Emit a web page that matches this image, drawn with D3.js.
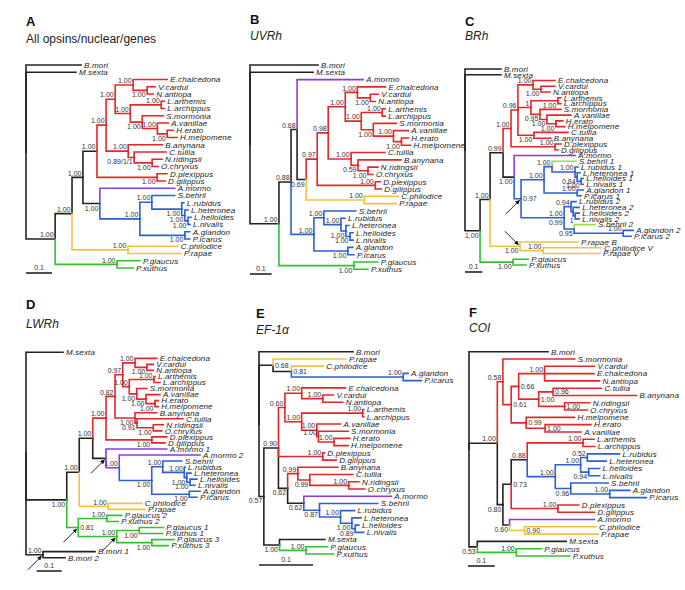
<!DOCTYPE html>
<html><head><meta charset="utf-8">
<script src="https://cdn.jsdelivr.net/npm/d3@7"></script>
<style>
body{margin:0;background:#fff}
svg{display:block}
text{font-family:"Liberation Sans",Arial,sans-serif}
</style></head><body>
<svg id="c" width="685" height="590"></svg>
<script>
// colour codes used by the trees
const palette = {k:"#222222", r:"#e5262b", p:"#8e3bd8", b:"#2f5fd6", y:"#f2c142", g:"#33c033", l:"#9edc48"};

// rows: [node, parent, branch length, support label ("_" below, ">" right, "a|b" above|below), colour code]
const treeA = [
["A0","",0],
["B.mori","A0",0.212],["M.sexta","A0",0.192],
["A1","A0",0.112,"1.00"],["A2","A1",0.065,"1.00"],["A3","A2",0.042,"1.00"],
["A4","A3",0.054,"1.00"],["A5","A4",0.035,"1.00","r"],["A6","A5",0.035,"1.00"],
["A7","A6",0.069,"1.00"],["E.chalcedona","A7",0.131],
["A8","A7",0.054,"_1.00"],["V.cardui","A8",0.031],["N.antiopa","A8",0.023],
["A9","A6",0.058,"1.00"],["A10","A9",0.119,"1.00"],["L.arthemis","A10",0.012],["L.archippus","A10",0.012],
["A11","A9",0.046,"_1.00"],["S.mormonia","A11",0.081],
["A12","A11",0.058,"1.00"],["A.vanillae","A12",0.042],
["A13","A12",0.038,"_1.00"],["H.erato","A13",0.023],["H.melpomene","A13",0.038],
["A14","A5",0.085,"1.00"],["B.anynana","A14",0.131],
["A15","A14",0.023,"_0.89/1/1"],["C.tullia","A15",0.123],
["A16","A15",0.069,"_1.00"],["N.ridingsii","A16",0.038],["O.chryxus","A16",0.023],
["A17","A4",0.231,"_1.00","r"],["D.plexippus","A17",0.038],["D.gilippus","A17",0.031],
["A18","A3",0.065,"_1.00"],["A.mormo","A18",0.288,"","p"],
["A19","A18",0.154,"1.00","b"],["A20","A19",0.046,"1.00"],["S.behrii","A20",0.088],
["A21","A20",0.115,"_1.00"],["L.rubidus","A21",0.008],
["A22","A21",0.012,"_1.00"],["L.heteronea","A22",0.012],
["A23","A22",0.012,"_1.00"],["L.helloides","A23",0.012],["L.nivalis","A23",0.008],
["A24","A19",0.173,"_1.00"],["A.glandon","A24",0.019],["P.icarus","A24",0.019],
["A25","A2",0.215,"1.00","y"],["C.philodice","A25",0.192],["P.rapae","A25",0.204],
["A26","A1",0.238,"1.00","g"],["P.glaucus","A26",0.088],["P.xuthus","A26",0.062]
];

const treeB = [
["B0","",0],
["B.mori","B0",0.315],["M.sexta","B0",0.292],
["B1","B0",0.134,"1.00"],["B2","B1",0.056,"0.88"],["B3","B2",0.028,"0.68"],
["A.mormo","B3",0.306,"","p"],
["B4","B3",0.042,"_0.69"],["B5","B4",0.051,"0.97","r"],["B6","B5",0.051,"0.98"],
["B7","B6",0.079,"1.00"],["B8","B7",0.056,"1.00"],["E.chalcedona","B8",0.130],
["B9","B8",0.060,"_1.00"],["V.cardui","B9",0.037],["N.antiopa","B9",0.023],
["B10","B7",0.074,"1.00"],["B11","B10",0.097,"1.00"],["L.arthemis","B11",0.014],["L.archippus","B11",0.014],
["B12","B10",0.056,"_1.00"],["S.mormonia","B12",0.106],
["B13","B12",0.093,"1.00"],["A.vanillae","B13",0.069],
["B14","B13",0.037,"_1.00"],["H.erato","B14",0.032],["H.melpomene","B14",0.042],
["B15","B6",0.106,"1.00"],["C.tullia","B15",0.157],
["B16","B15",0.032,"_0.59"],["B.anynana","B16",0.199],
["B17","B16",0.046,"_1.00"],["N.ridingsii","B17",0.046],["O.chryxus","B17",0.023],
["B18","B5",0.269,"1.00"],["D.plexippus","B18",0.023],["D.gilippus","B18",0.028],
["B19","B4",0.269,"1.00","y"],["C.philodice","B19",0.157],["P.rapae","B19",0.148],
["B20","B2",0.106,"1.00","b"],["B21","B20",0.046,"1.00"],["S.behrii","B21",0.148],
["B22","B21",0.079,"1.00"],["L.rubidus","B22",0.019],
["B23","B22",0.023,"_1.00"],["L.heteronea","B23",0.014],
["B24","B23",0.019,"_1.00"],["L.helloides","B24",0.014],["L.nivalis","B24",0.014],
["B25","B20",0.157,"_1.00"],["A.glandon","B25",0.023],["P.icarus","B25",0.028],
["B26","B1",0.347,"_1.00","g"],["P.glaucus","B26",0.111],["P.xuthus","B26",0.065]
];

const treeC = [
["C0","",0],
["B.mori","C0",0.208],["M.sexta","C0",0.208],
["C1","C0",0.087,"_1.00"],["C2","C1",0.058,"1.00"],["C3","C2",0.075,"0.99"],
["C4","C3",0.046,"1.00","r"],["C5","C4",0.040,"0.96"],
["C6","C5",0.087,"1.00"],["E.chalcedona","C6",0.127],
["C7","C6",0.046,"_1.00"],["V.cardui","C7",0.081],["N.antiopa","C7",0.052],
["C8","C5",0.075,"1"],["C9","C8",0.156,"_1.00"],["L.arthemis","C9",0.017],["L.archippus","C9",0.017],
["C10","C8",0.052,"_0.95"],["S.mormonia","C10",0.121],
["C11","C10",0.040,"_1.00"],["A.vanillae","C11",0.139],
["C12","C11",0.052,"_1.00"],["H.erato","C12",0.040],["H.melpomene","C12",0.052],
["C13","C5",0.092,"_1.00"],["C.tullia","C13",0.197],["B.anynana","C13",0.098],
["C14","C4",0.254,"1.00"],["D.plexippus","C14",0.035],["D.gilippus","C14",0.017],
["C15","C3",0.064,"_1.00"],["A.mormo","C15",0.353,"","p"],
["C16","C15",0.040,">0.97","b"],
["C17","C16",0.133,"1.00"],["C18","C17",0.046,"1.00"],["S.behrii 1","C18",0.139,"","l"],
["C19","C18",0.133,"1.00"],["L.rubidus 1","C19",0.017],
["C20","C19",0.012,"_0.84"],["L.heteronea 1","C20",0.017],
["C21","C20",0.023,"_1.00"],["L.helloides 1","C21",0.012],["L.nivalis 1","C21",0.012],
["C22","C17",0.191,"1.00"],["A.glandon 1","C22",0.035],["P.icarus 1","C22",0.023],
["C23","C16",0.249,"1.00|0.99"],
["C24","C23",0.040,"0.94"],["L.rubidus 2","C24",0.029],
["C25","C24",0.012,""],["L.heteronea 2","C25",0.035],
["C26","C25",0.012,"_1"],["L.helloides 2","C26",0.023],["L.nivalis 2","C26",0.023],
["C27","C23",0.058,"_0.95"],["S.behrii 2","C27",0.121,"","l"],
["C28","C27",0.283,"1.00"],["A.glandon 2","C28",0.058],["P.icarus 2","C28",0.046],
["C29","C2",0.173,"_1.00","y"],["P.rapae B","C29",0.335],
["C30","C29",0.133,"1.00"],["C.philodice V","C30",0.335],["P.rapae V","C30",0.329],
["C31","C1",0.191,"_1.00","g"],["P.glaucus","C31",0.087],["P.xuthus","C31",0.075]
];

const treeD = [
["D0","",0],
["M.sexta","D0",0.148],
["D1","D0",0.163,"_1.00"],["D2","D1",0.050,"1.00"],["D3","D2",0.054,"1.00"],
["D4","D3",0.053,"1.00","r"],["D5","D4",0.036,"0.82"],["D6","D5",0.031,"0.97"],
["D7","D6",0.049,"1.00"],["E.chalcedona","D7",0.087],
["D8","D7",0.047,"_1.00"],["V.cardui","D8",0.026],["N.antiopa","D8",0.026],
["D9","D6",0.026,"1.00"],["D10","D9",0.099,"1.00"],["L.arthemis","D10",0.004],["L.archippus","D10",0.024],
["D11","D9",0.030,"_1.00"],["S.mormonia","D11",0.040],
["D12","D11",0.037,"_1.00"],["A.vanillae","D12",0.056],
["D13","D12",0.036,"_1.00"],["H.erato","D13",0.013],["H.melpomene","D13",0.013],
["D14","D5",0.080,"_1.00"],["B.anynana","D14",0.087],
["D15","D14",0.008,"_0.91"],["C.tullia","D15",0.184],
["D16","D15",0.065,"_1.00"],["N.ridingsii","D16",0.040],["O.chryxus","D16",0.034],
["D17","D4",0.183,"_1.00"],["D.plexippus","D17",0.060],["D.gilippus","D17",0.053],
["D18","D3",0.053,""],["A.mormo 1","D18",0.243,"","p"],
["D19","D18",0.053,"1.00","p"],["A.mormo 2","D19",0.323],
["D20","D19",0.130,"_1.00","b"],["D21","D20",0.044,"1.00"],["S.behrii","D21",0.076],
["D22","D21",0.086,"1.00"],["L.rubidus","D22",0.003],
["D23","D22",0.010,"_1.00"],["L.heteronea","D23",0.017],
["D24","D23",0.013,"_1.00"],["L.helloides","D24",0.028],["L.nivalis","D24",0.020],
["D25","D20",0.150,"_1.00"],["A.glandon","D25",0.043],["P.icarus","D25",0.031],
["D26","D2",0.116,"1.00","y"],["C.philodice","D26",0.134],["P.rapae","D26",0.147],
["D27","D1",0.046,">0.81","g"],
["D28","D27",0.114,"1.00"],["P.glaucus 2","D28",0.060],["P.xuthus 2","D28",0.046],
["D29","D27",0.154,"1.00"],
["D30","D29",0.090,"_1.00"],["P.glaucus 1","D30",0.096],["P.xuthus 1","D30",0.094],
["D31","D29",0.140,"_1.00"],["P.glaucus 3","D31",0.089],["P.xuthus 3","D31",0.066],
["D32","D0",0.068,"1.00"],["B.mori 1","D32",0.208],["B.mori 2","D32",0.088]
];

const treeE = [
["E0","",0],
["B.mori","E0",0.174],
["E1","E0",0.026,">0.68"],["P.rapae","E1",0.135,"","y"],
["E2","E1",0.034,">0.81"],["C.philodice","E2",0.059,"","y"],
["E3","E2",0.207,"1.00","b"],["A.glandon","E3",0.009],["P.icarus","E3",0.034],
["E4","E0",0.009,"_0.57"],["E5","E4",0.027,"0.90"],
["E6","E5",0.012,"0.60","r"],
["E7","E6",0.031,"1.00"],["E.chalcedona","E7",0.081],
["E8","E7",0.039,"1.00"],["V.cardui","E8",0.020],["N.antiopa","E8",0.037],
["E9","E6",0.031,"1.00"],["E10","E9",0.113,"1.00"],["L.arthemis","E10",0.002],["L.archippus","E10",0.002],
["E11","E9",0.028,"1.00"],["A.vanillae","E11",0.044],
["E12","E11",0.003,"1.00"],["S.mormonia","E12",0.055],
["E13","E12",0.029,"1.00"],["H.erato","E13",0.029],["H.melpomene","E13",0.026],
["E14","E5",0.082,"1.00","r"],["D.plexippus","E14",0.003],["D.gilippus","E14",0.025],
["E15","E5",0.017,"_0.62"],
["E16","E15",0.019,"0.99","r"],["B.anynana","E16",0.074],
["E17","E16",0.022,"_0.99"],["C.tullia","E17",0.080],
["E18","E17",0.072,"1.00"],["N.ridingsii","E18",0.019],["O.chryxus","E18",0.030],
["E19","E15",0.030,"_0.62"],["A.mormo","E19",0.162,"","p"],
["E20","E19",0.029,"_0.87","b"],["S.behrii","E20",0.108],
["E21","E20",0.039,"1.00"],["L.rubidus","E21",0.026],
["E22","E21",0.021,"_1.00"],["L.heteronea","E22",0.017],
["E23","E22",0.006,"_0.89"],["L.helloides","E23",0.007],["L.nivalis","E23",0.016],
["E24","E4",0.029,"_1.00"],["M.sexta","E24",0.084],
["E25","E24",0.049,"1.00","g"],["P.glaucus","E25",0.040],["P.xuthus","E25",0.051]
];

const treeF = [
["F0","",0],
["B.mori","F0",0.296],
["F1","F0",0.106,"1.00"],
["F2","F1",0.021,"0.58","r"],["S.mormonia","F2",0.269],
["F3","F2",0.031,">0.61"],["F4","F3",0.028,">0.66"],
["F5","F4",0.097,"1.00"],["V.cardui","F5",0.187],["E.chalcedona","F5",0.185],["N.antiopa","F5",0.206],
["F6","F4",0.075,">1.00"],
["F7","F6",0.054,">0.96"],["C.tullia","F7",0.181],["B.anynana","F7",0.312],
["F8","F6",0.097,">1.00"],["N.ridingsii","F8",0.094],["O.chryxus","F8",0.085],
["F9","F3",0.056,">0.99"],["H.melpomene","F9",0.181],
["F10","F9",0.071,">1.00"],["H.erato","F10",0.172],["A.vanillae","F10",0.135],
["F11","F1",0.021,"_0.80"],["F12","F11",0.031,">0.73"],["F13","F12",0.060,"0.88"],
["F14","F13",0.209,"1.00","r"],["L.arthemis","F14",0.041],["L.archippus","F14",0.044],
["F15","F13",0.105,"1.00","b"],["F16","F15",0.095,"1.00"],
["F17","F16",0.025,"0.52"],["L.rubidus","F17",0.121],["L.heteronea","F17",0.071],
["F18","F16",0.030,"_0.94"],["L.helloides","F18",0.041],["L.nivalis","F18",0.041],
["F19","F15",0.058,"_0.96"],["S.behrii","F19",0.140],
["F20","F19",0.146,"1.00"],["A.glandon","F20",0.075],["P.icarus","F20",0.137],
["F21","F12",0.175,"1.00","r"],["D.plexippus","F21",0.078],["D.gilippus","F21",0.137],
["F22","F11",0.025,"_0.60"],["A.mormo","F22",0.318,"","p"],
["F23","F22",0.056,">0.90","y"],["C.philodice","F23",0.268],["P.rapae","F23",0.275],
["F24","F0",0.031,"_0.53"],["M.sexta","F24",0.333],
["F25","F24",0.146,"1.00","g"],["P.glaucus","F25",0.094],["P.xuthus","F25",0.200]
];

const letters = ["A","B","C","D","E","F"];
const titles = ["All opsins/nuclear/genes","UVRh","BRh","LWRh","EF-1\u03B1","COI"];
const scaleLabel = "0.1";
// arrows: [node, side the arrow comes from]
const arrowsC = [["C16","below"],["C29","above"]];
const arrowsD = [["D18","below"],["D27","below"],["D29","below"],["D32","below"]];

// layout (pixels)
const layout = [
 {tree:treeA, italic:false, x0:26,  unit:26,   y0:65,    y1:268,   sbX:26,  sbY:273, lx:26,  ly:26,  ty:42.5, arrows:[]},
 {tree:treeB, italic:true,  x0:250, unit:21.6, y0:65,    y1:269.3, sbX:250, sbY:274, lx:250, ly:23.5, ty:40, arrows:[]},
 {tree:treeC, italic:true,  x0:465, unit:17.3, y0:69,    y1:265,   sbX:465, sbY:272, lx:465, ly:26,  ty:40,   arrows:arrowsC},
 {tree:treeD, italic:true,  x0:26,  unit:25,   y0:352.3, y1:557.7, sbX:36.7,sbY:571, lx:26,  ly:309, ty:327.5,arrows:arrowsD},
 {tree:treeE, italic:true,  x0:259, unit:54,   y0:351.7, y1:554,   sbX:259, sbY:565, lx:256, ly:318, ty:334,  arrows:[]},
 {tree:treeF, italic:true,  x0:469, unit:26.7, y0:351.7, y1:556,   sbX:468, sbY:566, lx:469, ly:317, ty:331.5,arrows:[]}
];

const svg = d3.select("#c");
const defs = svg.append("defs");
defs.append("marker").attr("id","ah").attr("viewBox","0 0 10 10").attr("refX",9).attr("refY",5)
  .attr("markerWidth",5).attr("markerHeight",5).attr("orient","auto")
  .append("path").attr("d","M0,0L10,5L0,10Z").attr("fill","#111");

function supports(s){
  if(!s) return [];
  if(s.includes("|")){const [a,b]=s.split("|");return [{t:a,pos:"a"},{t:b,pos:"b"}];}
  if(s[0]==="_") return [{t:s.slice(1),pos:"b"}];
  if(s[0]===">") return [{t:s.slice(1),pos:"r"}];
  return [{t:s,pos:"a"}];
}

layout.forEach((p,i)=>{
  const g = svg.append("g");
  g.append("text").attr("x",p.lx).attr("y",p.ly).attr("font-size",13).attr("font-weight","bold")
    .attr("fill","#111").text(letters[i]);
  g.append("text").attr("x",p.lx).attr("y",p.ty).attr("font-size",12)
    .attr("font-style",p.italic?"italic":"normal").attr("fill","#222").text(titles[i]);

  const root = d3.stratify().id(d=>d[0]).parentId(d=>d[1])(p.tree);
  root.eachBefore(n=>{
    n.dist = n.parent ? n.parent.dist + (+n.data[2]||0) : 0;
    n.col = n.data[4] || (n.parent ? n.parent.col : "k");
  });
  const leaves = root.leaves();
  const y = d3.scaleLinear().domain([0, leaves.length-1]).range([p.y0, p.y1]);
  const x = d3.scaleLinear().domain([0, 0.1]).range([p.x0, p.x0 + p.unit]);
  leaves.forEach((l,k)=> l.py = y(k));
  root.eachAfter(n=>{ if(n.children) n.py = (n.children[0].py + n.children[n.children.length-1].py)/2; });
  root.each(n=> n.px = x(n.dist));

  const links = root.descendants().slice(1)
    .sort((a,b)=>(a.col==="k"?0:1)-(b.col==="k"?0:1));
  g.selectAll("path.br").data(links).join("path").attr("class","br")
    .attr("d", n=>`M${n.parent.px},${n.parent.py}V${n.py}H${n.px}`)
    .attr("fill","none").attr("stroke", n=>palette[n.col])
    .attr("stroke-width",1.6).attr("stroke-linecap","square");

  g.selectAll("text.leaf").data(leaves).join("text").attr("class","leaf")
    .attr("x", n=>n.px+3).attr("y", n=>n.py+2.8)
    .attr("font-size",8).attr("font-style","italic").attr("letter-spacing",0.15).attr("fill","#222")
    .text(n=>n.id);

  const sup = [];
  root.descendants().forEach(n=>{ if(n.children) supports(n.data[3]).forEach(s=>sup.push({n,...s})); });
  g.selectAll("text.sup").data(sup).join("text").attr("class","sup")
    .attr("x", d=> d.pos==="r" ? d.n.px+2 : d.n.px-1.5)
    .attr("y", d=> d.pos==="a" ? d.n.py-1.8 : d.pos==="b" ? d.n.py+7 : d.n.py+2.5)
    .attr("text-anchor", d=> d.pos==="r" ? "start" : "end")
    .attr("font-size",7).attr("fill","#333").text(d=>d.t);

  // scale bar
  const w = x(0.1) - x(0);
  g.append("line").attr("x1",p.sbX).attr("x2",p.sbX+w).attr("y1",p.sbY).attr("y2",p.sbY)
    .attr("stroke","#222").attr("stroke-width",1.6);
  g.append("text").attr("x",p.sbX+w/2).attr("y",p.sbY-3).attr("text-anchor","middle")
    .attr("font-size",7).attr("fill","#333").text(scaleLabel);

  // arrows
  const byId = new Map(root.descendants().map(n=>[n.id,n]));
  p.arrows.forEach(([id,dir])=>{
    const n = byId.get(id); const s = dir==="below" ? 1 : -1;
    g.append("line").attr("x1",n.px-15).attr("y1",n.py+15*s)
      .attr("x2",n.px-1.5).attr("y2",n.py+1.5*s)
      .attr("stroke","#111").attr("stroke-width",0.9).attr("marker-end","url(#ah)");
  });
});
</script>
</body></html>
